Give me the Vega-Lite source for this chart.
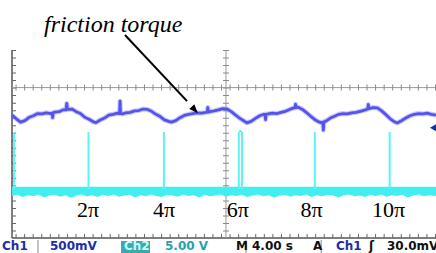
{
  "$schema": "https://vega.github.io/schema/vega-lite/v6.json",
  "width": 424,
  "height": 188,
  "autosize": {"type": "none"},
  "padding": {"left": 12, "top": 50, "right": 0, "bottom": 15},
  "background": "white",
  "config": {"view": {"stroke": null}},
  "datasets": {
    "ch1": [
      {"t":0.0,"v":3.27},{"t":0.4,"v":3.17},{"t":0.8,"v":3.08},{"t":1.2,"v":3.12},{"t":1.6,"v":3.21},{"t":2.0,"v":3.25},{"t":2.4,"v":3.31},{"t":2.8,"v":3.30},{"t":3.2,"v":3.33},{"t":3.6,"v":3.31},{"t":3.75,"v":3.32},{"t":3.8,"v":3.20},{"t":3.85,"v":3.33},{"t":4.0,"v":3.35},{"t":4.4,"v":3.36},{"t":4.8,"v":3.41},{"t":5.05,"v":3.41},{"t":5.12,"v":3.58},{"t":5.18,"v":3.42},{"t":5.3,"v":3.42},{"t":5.6,"v":3.43},{"t":6.0,"v":3.36},{"t":6.4,"v":3.31},{"t":6.8,"v":3.21},{"t":7.2,"v":3.16},{"t":7.6,"v":3.09},
      {"t":7.85,"v":3.07},{"t":8.25,"v":3.14},{"t":8.65,"v":3.19},{"t":9.05,"v":3.27},{"t":9.45,"v":3.29},{"t":9.85,"v":3.32},{"t":10.05,"v":3.31},{"t":10.1,"v":3.64},{"t":10.15,"v":3.31},{"t":10.35,"v":3.30},{"t":10.65,"v":3.33},{"t":11.05,"v":3.34},{"t":11.45,"v":3.38},{"t":11.85,"v":3.39},{"t":12.25,"v":3.43},{"t":12.65,"v":3.42},{"t":13.05,"v":3.37},{"t":13.45,"v":3.29},{"t":13.85,"v":3.23},{"t":14.25,"v":3.14},{"t":14.65,"v":3.10},
      {"t":14.9,"v":3.08},{"t":15.3,"v":3.12},{"t":15.7,"v":3.20},{"t":16.1,"v":3.26},{"t":16.5,"v":3.29},{"t":16.9,"v":3.31},{"t":17.3,"v":3.33},{"t":17.7,"v":3.32},{"t":18.1,"v":3.34},{"t":18.25,"v":3.35},{"t":18.3,"v":3.47},{"t":18.35,"v":3.35},{"t":18.5,"v":3.36},{"t":18.9,"v":3.38},{"t":19.3,"v":3.41},{"t":19.7,"v":3.44},{"t":20.1,"v":3.43},{"t":20.5,"v":3.36},{"t":20.9,"v":3.27},{"t":21.3,"v":3.18},{"t":21.7,"v":3.11},
      {"t":21.95,"v":3.06},{"t":22.35,"v":3.10},{"t":22.75,"v":3.18},{"t":23.15,"v":3.25},{"t":23.55,"v":3.29},{"t":23.65,"v":3.29},{"t":23.7,"v":3.15},{"t":23.75,"v":3.29},{"t":23.95,"v":3.30},{"t":24.35,"v":3.32},{"t":24.75,"v":3.31},{"t":25.15,"v":3.34},{"t":25.55,"v":3.37},{"t":25.95,"v":3.42},{"t":26.35,"v":3.46},{"t":26.45,"v":3.46},{"t":26.5,"v":3.56},{"t":26.55,"v":3.47},{"t":26.75,"v":3.48},{"t":27.15,"v":3.42},{"t":27.55,"v":3.33},{"t":27.95,"v":3.23},{"t":28.35,"v":3.14},{"t":28.75,"v":3.08},
      {"t":28.95,"v":3.06},{"t":29.05,"v":3.08},{"t":29.1,"v":2.87},{"t":29.15,"v":3.09},{"t":29.35,"v":3.11},{"t":29.75,"v":3.19},{"t":30.15,"v":3.24},{"t":30.55,"v":3.29},{"t":30.95,"v":3.31},{"t":31.35,"v":3.30},{"t":31.75,"v":3.33},{"t":32.15,"v":3.34},{"t":32.55,"v":3.37},{"t":32.95,"v":3.40},{"t":33.25,"v":3.43},{"t":33.3,"v":3.55},{"t":33.35,"v":3.44},{"t":33.75,"v":3.47},{"t":34.15,"v":3.46},{"t":34.55,"v":3.38},{"t":34.95,"v":3.28},{"t":35.35,"v":3.17},{"t":35.75,"v":3.09},
      {"t":36.0,"v":3.06},{"t":36.4,"v":3.12},{"t":36.8,"v":3.19},{"t":37.2,"v":3.25},{"t":37.6,"v":3.29},{"t":38.0,"v":3.31},{"t":38.4,"v":3.30},{"t":38.8,"v":3.32},{"t":39.2,"v":3.29},{"t":39.63,"v":3.27}
    ],
    "band": [
      {"t":0,"lo":1.12},{"t":0.5,"lo":1.15},{"t":1,"lo":1.09},{"t":1.5,"lo":1.14},{"t":2,"lo":1.11},{"t":2.5,"lo":1.16},{"t":3,"lo":1.08},{"t":3.5,"lo":1.13},{"t":4,"lo":1.15},{"t":4.5,"lo":1.10},{"t":5,"lo":1.14},{"t":5.5,"lo":1.07},{"t":6,"lo":1.13},{"t":6.5,"lo":1.16},{"t":7,"lo":1.11},{"t":7.5,"lo":1.14},{"t":8,"lo":1.09},{"t":8.5,"lo":1.15},{"t":9,"lo":1.12},{"t":9.5,"lo":1.16},{"t":10,"lo":1.10},{"t":10.5,"lo":1.13},{"t":11,"lo":1.15},{"t":11.5,"lo":1.08},{"t":12,"lo":1.14},{"t":12.5,"lo":1.11},{"t":13,"lo":1.16},{"t":13.5,"lo":1.12},{"t":14,"lo":1.09},{"t":14.5,"lo":1.15},{"t":15,"lo":1.13},{"t":15.5,"lo":1.10},{"t":16,"lo":1.16},{"t":16.5,"lo":1.12},{"t":17,"lo":1.14},{"t":17.5,"lo":1.08},{"t":18,"lo":1.15},{"t":18.5,"lo":1.11},{"t":19,"lo":1.13},{"t":19.5,"lo":1.16},{"t":20,"lo":1.10},{"t":20.5,"lo":1.14},{"t":21,"lo":1.12},{"t":21.5,"lo":1.15},{"t":22,"lo":1.09},{"t":22.5,"lo":1.13},{"t":23,"lo":1.16},{"t":23.5,"lo":1.11},{"t":24,"lo":1.14},{"t":24.5,"lo":1.07},{"t":25,"lo":1.13},{"t":25.5,"lo":1.15},{"t":26,"lo":1.10},{"t":26.5,"lo":1.14},{"t":27,"lo":1.12},{"t":27.5,"lo":1.16},{"t":28,"lo":1.09},{"t":28.5,"lo":1.14},{"t":29,"lo":1.11},{"t":29.5,"lo":1.15},{"t":30,"lo":1.13},{"t":30.5,"lo":1.08},{"t":31,"lo":1.14},{"t":31.5,"lo":1.16},{"t":32,"lo":1.11},{"t":32.5,"lo":1.13},{"t":33,"lo":1.09},{"t":33.5,"lo":1.15},{"t":34,"lo":1.12},{"t":34.5,"lo":1.16},{"t":35,"lo":1.10},{"t":35.5,"lo":1.14},{"t":36,"lo":1.12},{"t":36.5,"lo":1.15},{"t":37,"lo":1.08},{"t":37.5,"lo":1.13},{"t":38,"lo":1.16},{"t":38.5,"lo":1.11},{"t":39,"lo":1.14},{"t":39.63,"lo":1.12}
    ],
    "pulses": [
      {"t":0.2,"t2":0.2,"b":1.3,"top":2.82},
      {"t":7.15,"t2":7.15,"b":1.3,"top":2.82},
      {"t":14.2,"t2":14.2,"b":1.3,"top":2.82},
      {"t":21.2,"t2":21.2,"b":1.3,"top":2.82},
      {"t":21.5,"t2":21.5,"b":1.3,"top":2.82},
      {"t":21.2,"t2":21.5,"b":2.84,"top":2.84},
      {"t":28.3,"t2":28.3,"b":1.3,"top":2.82},
      {"t":35.3,"t2":35.3,"b":1.3,"top":2.82}
    ],
    "labels": [
      {"t":7.1,"v":0.56,"text":"2π"},
      {"t":14.2,"v":0.56,"text":"4π"},
      {"t":21.1,"v":0.56,"text":"6π"},
      {"t":28.0,"v":0.56,"text":"8π"},
      {"t":35.2,"v":0.56,"text":"10π"}
    ],
    "note": [{"t":2.99,"v":5.48,"text":"friction torque"}],
    "arrow": [{"t":10.56,"v":5.40,"t2":16.36,"v2":3.64}],
    "tip": [{"t":17.38,"v":3.32}],
    "marker": [{"t":39.35,"v":2.93}],
    "box": [{"t":10.19,"t2":12.9,"v":-0.08,"v2":-0.40}],
    "seps": [{"t":2.43},{"t":21.87},{"t":28.9}],
    "status": [
      {"t":-0.93,"v":-0.33,"text":"Ch1","k":"c1"},
      {"t":3.55,"v":-0.33,"text":"500mV","k":"c1"},
      {"t":10.47,"v":-0.33,"text":"Ch2","k":"box"},
      {"t":14.3,"v":-0.33,"text":"5.00 V","k":"c2"},
      {"t":20.93,"v":-0.33,"text":"M","k":"n"},
      {"t":22.43,"v":-0.33,"text":"4.00 s","k":"n"},
      {"t":28.13,"v":-0.33,"text":"A","k":"n"},
      {"t":30.28,"v":-0.33,"text":"Ch1","k":"c1"},
      {"t":33.36,"v":-0.33,"text":"ʃ","k":"n"},
      {"t":35.05,"v":-0.33,"text":"30.0mV","k":"n"}
    ]
  },
  "layer": [
    {
      "data": {"name": "ch1"},
      "mark": {"type": "line", "color": "#5b5bef", "strokeWidth": 3, "opacity": 0},
      "encoding": {
        "x": {"field": "t", "type": "quantitative", "scale": {"domain": [0, 39.63], "nice": false, "zero": false},
          "axis": {"values": [4, 8, 12, 16, 24, 28, 32, 36], "grid": true, "gridDash": [1, 6.52], "gridColor": "#8a8a8a", "domain": false, "ticks": false, "labels": false, "title": null}},
        "y": {"field": "v", "type": "quantitative", "scale": {"domain": [0, 5], "nice": false, "zero": false},
          "axis": {"values": [1, 2, 3, 5], "grid": true, "gridDash": [1, 7.56], "gridColor": "#8a8a8a", "domain": false, "ticks": false, "labels": false, "title": null}}
      }
    },
    {
      "data": {"values": [{}]},
      "mark": {"type": "rule", "color": "#555555", "strokeWidth": 1.5},
      "encoding": {"x": {"datum": 0, "type": "quantitative", "scale": {"domain": [0, 39.63], "nice": false, "zero": false}, "axis": null}}
    },
    {
      "data": {"values": [{}]},
      "mark": {"type": "rule", "color": "#666666", "strokeWidth": 4, "strokeDash": [1, 6.52], "xOffset": 2},
      "encoding": {"x": {"datum": 0, "type": "quantitative", "axis": null}}
    },
    {
      "data": {"values": [{}]},
      "mark": {"type": "rule", "color": "#555555", "strokeWidth": 1.5},
      "encoding": {"y": {"datum": 0, "type": "quantitative", "scale": {"domain": [0, 5], "nice": false, "zero": false}, "axis": null}}
    },
    {
      "data": {"values": [{}]},
      "mark": {"type": "rule", "color": "#666666", "strokeWidth": 4, "strokeDash": [1, 7.56], "yOffset": -2},
      "encoding": {"y": {"datum": 0, "type": "quantitative", "axis": null}}
    },
    {
      "data": {"values": [{}]},
      "mark": {"type": "rule", "color": "#9a9a9a", "strokeWidth": 1},
      "encoding": {"x": {"datum": 20, "type": "quantitative", "axis": null}}
    },
    {
      "data": {"values": [{}]},
      "mark": {"type": "rule", "color": "#8a8a8a", "strokeWidth": 6, "strokeDash": [1, 6.52]},
      "encoding": {"x": {"datum": 20, "type": "quantitative", "axis": null}}
    },
    {
      "data": {"values": [{}]},
      "mark": {"type": "rule", "color": "#9a9a9a", "strokeWidth": 1},
      "encoding": {"y": {"datum": 4, "type": "quantitative", "axis": null}}
    },
    {
      "data": {"values": [{}]},
      "mark": {"type": "rule", "color": "#8a8a8a", "strokeWidth": 6, "strokeDash": [1, 7.56]},
      "encoding": {"y": {"datum": 4, "type": "quantitative", "axis": null}}
    },
    {
      "data": {"name": "band"},
      "mark": {"type": "area", "color": "#42eef0", "opacity": 1},
      "encoding": {
        "x": {"field": "t", "type": "quantitative", "axis": null},
        "y": {"field": "lo", "type": "quantitative", "axis": null},
        "y2": {"datum": 1.36}
      }
    },
    {
      "data": {"name": "pulses"},
      "mark": {"type": "rule", "color": "#5af4f6", "strokeWidth": 2},
      "encoding": {
        "x": {"field": "t", "type": "quantitative", "axis": null},
        "x2": {"field": "t2"},
        "y": {"field": "b", "type": "quantitative", "axis": null},
        "y2": {"field": "top"}
      }
    },
    {
      "data": {"name": "ch1"},
      "mark": {"type": "line", "color": "#6a6af2", "strokeWidth": 5, "opacity": 0.35, "strokeJoin": "round"},
      "encoding": {
        "x": {"field": "t", "type": "quantitative", "axis": null},
        "y": {"field": "v", "type": "quantitative", "axis": null}
      }
    },
    {
      "data": {"name": "ch1"},
      "mark": {"type": "line", "color": "#5454ec", "strokeWidth": 2.8, "strokeJoin": "round"},
      "encoding": {
        "x": {"field": "t", "type": "quantitative", "axis": null},
        "y": {"field": "v", "type": "quantitative", "axis": null}
      }
    },
    {
      "data": {"name": "marker"},
      "mark": {"type": "point", "shape": "triangle-left", "filled": true, "color": "#1c2ea6", "size": 50, "opacity": 1},
      "encoding": {
        "x": {"field": "t", "type": "quantitative", "axis": null},
        "y": {"field": "v", "type": "quantitative", "axis": null}
      }
    },
    {
      "data": {"name": "labels"},
      "mark": {"type": "text", "font": "Liberation Serif", "fontSize": 22, "align": "center", "baseline": "alphabetic", "color": "#000000"},
      "encoding": {
        "x": {"field": "t", "type": "quantitative", "axis": null},
        "y": {"field": "v", "type": "quantitative", "axis": null},
        "text": {"field": "text"}
      }
    },
    {
      "data": {"name": "note"},
      "mark": {"type": "text", "font": "Liberation Serif", "fontStyle": "italic", "fontSize": 24, "align": "left", "baseline": "alphabetic", "color": "#000000"},
      "encoding": {
        "x": {"field": "t", "type": "quantitative", "axis": null},
        "y": {"field": "v", "type": "quantitative", "axis": null},
        "text": {"field": "text"}
      }
    },
    {
      "data": {"name": "arrow"},
      "mark": {"type": "rule", "color": "#000000", "strokeWidth": 2},
      "encoding": {
        "x": {"field": "t", "type": "quantitative", "axis": null},
        "x2": {"field": "t2"},
        "y": {"field": "v", "type": "quantitative", "axis": null},
        "y2": {"field": "v2"}
      }
    },
    {
      "data": {"name": "tip"},
      "mark": {"type": "point", "shape": "M0,0L-0.75,-2L0.75,-2Z", "filled": true, "color": "#000000", "size": 81, "angle": -43, "opacity": 1},
      "encoding": {
        "x": {"field": "t", "type": "quantitative", "axis": null},
        "y": {"field": "v", "type": "quantitative", "axis": null}
      }
    },
    {
      "data": {"name": "box"},
      "mark": {"type": "rect", "color": "#39aaad"},
      "encoding": {
        "x": {"field": "t", "type": "quantitative", "axis": null},
        "x2": {"field": "t2"},
        "y": {"field": "v", "type": "quantitative", "axis": null},
        "y2": {"field": "v2"}
      }
    },
    {
      "data": {"name": "seps"},
      "mark": {"type": "rule", "color": "#888888", "strokeWidth": 1},
      "encoding": {
        "x": {"field": "t", "type": "quantitative", "axis": null},
        "y": {"datum": -0.05, "type": "quantitative", "axis": null},
        "y2": {"datum": -0.40}
      }
    },
    {
      "data": {"name": "status"},
      "mark": {"type": "text", "font": "DejaVu Sans", "fontWeight": "bold", "fontSize": 12, "align": "left", "baseline": "alphabetic"},
      "encoding": {
        "x": {"field": "t", "type": "quantitative", "axis": null},
        "y": {"field": "v", "type": "quantitative", "axis": null},
        "text": {"field": "text"},
        "color": {"field": "k", "type": "nominal", "legend": null,
          "scale": {"domain": ["c1", "c2", "box", "n"], "range": ["#1c2ea6", "#26a3a6", "#c8ffff", "#111111"]}}
      }
    }
  ]
}
